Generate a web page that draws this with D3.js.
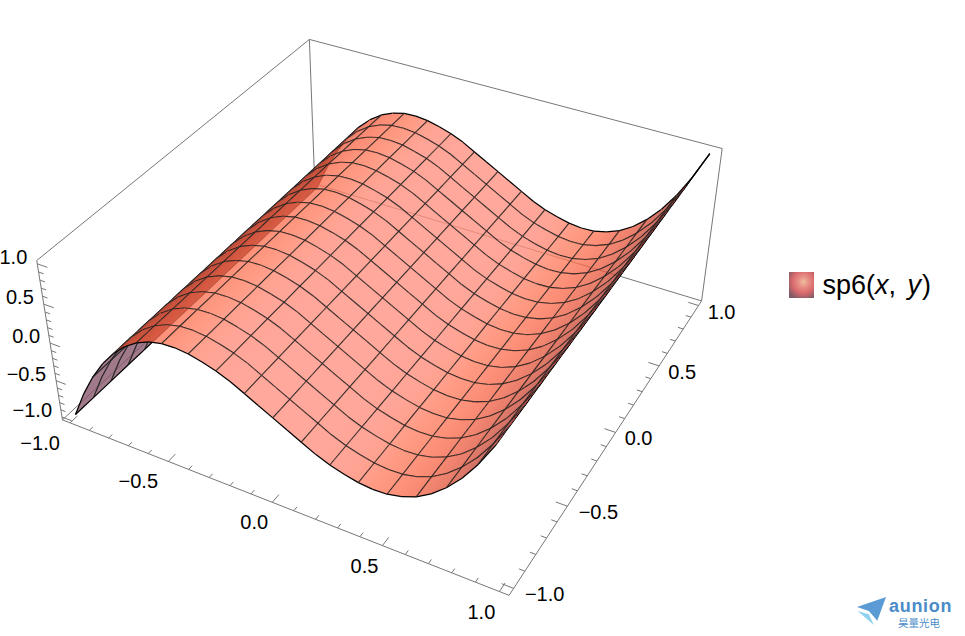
<!DOCTYPE html>
<html><head><meta charset="utf-8">
<script src="https://cdn.jsdelivr.net/npm/d3@7/dist/d3.min.js"></script>
<style>html,body{margin:0;background:#fff}svg{display:block}text{font-family:"Liberation Sans",Arial,sans-serif;fill:#000}</style>
</head><body><svg id="c" width="965" height="636"></svg>
<script>
// Surface height read along x (33 evenly spaced nodes from -1 to 1); constant along y
const zProfile=[-1.00,-0.65,-0.36,-0.12,0.07,0.22,0.33,0.40,0.44,0.447,0.43,0.39,0.34,0.27,0.18,0.09,0.00,
 -0.09,-0.18,-0.27,-0.34,-0.39,-0.43,-0.447,-0.44,-0.40,-0.33,-0.22,-0.07,0.12,0.36,0.65,1.00];
const xTickLabels=[-1,-0.5,0,0.5,1], yTickLabels=[-1,-0.5,0,0.5,1], zTickLabels=[-1,-0.5,0,0.5,1];
const legendName="sp6", legendArgs=["x","y"];
const brandName="aunion", brandSub="昊量光电";

const svg=d3.select("#c");
const lim=1.04, unit=d3.scaleLinear().domain([-lim,lim]).range([0,1]);
const nodeX=d3.scaleLinear().domain([0,zProfile.length-1]).range([-1,1]);
const meshY=d3.scaleLinear().domain([0,16]).range([-1,1]);

// camera fitted to the visible corners of the box
const anchors=[[-1,-1,-1,62.3,420],[1,-1,-1,509.3,595],[1,1,-1,701.3,302],[-1,1,-1,315,183],
 [-1,-1,1,36.7,260.7],[1,1,1,722.3,147.7],[-1,1,1,309.3,40]];
function fitCamera(){
 const A=[],b=[];
 anchors.forEach(([x,y,z,u,v])=>{
  const X=(x+1)/2,Y=(y+1)/2,Z=(z+1)/2;
  A.push([X,Y,Z,1,0,0,0,0,-u*X,-u*Y,-u*Z]);b.push(u);
  A.push([0,0,0,0,X,Y,Z,1,-v*X,-v*Y,-v*Z]);b.push(v);
 });
 const n=11,M=d3.range(n).map(r=>d3.range(n+1).map(c=>c<n?d3.sum(A,(row)=>row[r]*row[c]):d3.sum(A,(row,k)=>row[r]*b[k])));
 for(let c=0;c<n;c++){
  let p=c;for(let r=c+1;r<n;r++)if(Math.abs(M[r][c])>Math.abs(M[p][c]))p=r;
  [M[c],M[p]]=[M[p],M[c]];
  for(let r=0;r<n;r++)if(r!==c){const f=M[r][c]/M[c][c];for(let k=c;k<=n;k++)M[r][k]-=f*M[c][k];}
 }
 return M.map((row,i)=>row[n]/row[i]);
}
const C=fitCamera();
function proj(x,y,z){const X=unit(x),Y=unit(y),Z=unit(z),w=C[8]*X+C[9]*Y+C[10]*Z+1;
 return [(C[0]*X+C[1]*Y+C[2]*Z+C[3])/w,(C[4]*X+C[5]*Y+C[6]*Z+C[7])/w,w];}
const line=d3.line();

// box
const boxG=svg.append("g").attr("fill","none").attr("stroke","#777").attr("stroke-width",1);
[[[-lim,-lim,lim],[-lim,lim,lim]],[[-lim,lim,lim],[lim,lim,lim]],[[lim,lim,lim],[lim,lim,-lim]],
 [[lim,lim,-lim],[lim,-lim,-lim]],[[lim,-lim,-lim],[-lim,-lim,-lim]],[[-lim,-lim,-lim],[-lim,-lim,lim]],
 [[-lim,lim,lim],[-lim,lim,-lim]],[[-lim,lim,-lim],[lim,lim,-lim]],[[-lim,lim,-lim],[-lim,-lim,-lim]]]
 .forEach(e=>boxG.append("path").attr("d",line(e.map(p=>proj(...p).slice(0,2)))));
// ticks
const fine=d3.range(-10,11).map(d=>d/10);
fine.forEach(t=>{
 const major=Math.abs(t*2-Math.round(t*2))<1e-9, len=major?0.05:0.025;
 boxG.append("path").attr("d",line([proj(t,-lim,-lim),proj(t,-lim+len,-lim)].map(p=>p.slice(0,2))));
 boxG.append("path").attr("d",line([proj(lim,t,-lim),proj(lim-len,t,-lim)].map(p=>p.slice(0,2))));
 boxG.append("path").attr("d",line([proj(-lim,-lim,t),proj(-lim+len,-lim,t)].map(p=>p.slice(0,2))));
});
const fmt=d=>(d<0?"\u2212":"")+Math.abs(d).toFixed(1);
const tickFont=20;
function label(px,py,s,anchor){svg.append("text").attr("x",px).attr("y",py).attr("font-size",tickFont)
 .attr("text-anchor",anchor).attr("dominant-baseline","central").text(fmt(s));}
xTickLabels.forEach(t=>{const p=proj(t,-lim,-lim);label(p[0]-(t<0?30:18),p[1]+20,t,"middle");});
yTickLabels.forEach(t=>{const p=proj(lim,t,-lim);label(p[0]+(t<0?31:23),p[1]+6,t,"middle");});
zTickLabels.forEach(t=>{const p=proj(-lim,-lim,t);label(p[0]-10,p[1]-7,t,"end");});

// surface
const alpha=0.78;
const slope=i=>{const a=Math.max(0,i-1),b=Math.min(zProfile.length-1,i+1);return (zProfile[b]-zProfile[a])/(nodeX(b)-nodeX(a));};
const front=d3.scaleLinear().domain([-1.5,-0.8,0,1,2.5,4.5,7.5])
 .range(["rgb(255,143,127)","rgb(255,140,122)","rgb(255,124,94)","rgb(250,108,78)","rgb(225,90,65)","rgb(180,65,55)","rgb(150,55,50)"]).clamp(true);
const backColor="rgb(133,85,105)", behindColor="rgb(95,22,22)";
const cells=[];
for(let i=0;i<zProfile.length-1;i++)for(let j=0;j<16;j++){
 const c=proj((nodeX(i)+nodeX(i+1))/2,(meshY(j)+meshY(j+1))/2,(zProfile[i]+zProfile[i+1])/2);
 cells.push({i,j,d:c[2]});
}
const wFar=proj(-lim,lim,-lim)[2],wNear=proj(lim,-lim,-lim)[2];
cells.sort((a,b)=>wFar>wNear?d3.descending(a.d,b.d):d3.ascending(a.d,b.d));
const backG=svg.append("g"), behindG=svg.append("g").attr("clip-path","url(#sheet)"), backLines=svg.append("g"), frontG=svg.append("g");
const faces=3; let sheetPath="";
cells.forEach(({i,j})=>{
 const pt=(t,y)=>proj(nodeX(i+t),y,zProfile[i]+(zProfile[i+1]-zProfile[i])*t).slice(0,2);
 const y0=meshY(j),y1=meshY(j+1);
 const c0=slope(i),c1=slope(i+1);
 let anyFront=false;
 for(let k=0;k<faces;k++){
  const t0=k/faces,t1=(k+1)/faces,poly=[pt(t0,y0),pt(t1,y0),pt(t1,y1),pt(t0,y1)];
  const d=line(poly)+"Z";
  if(d3.polygonArea(poly)>0){
   anyFront=true; sheetPath+=d;
   frontG.append("path").attr("d",d).attr("fill",front(c0+(c1-c0)*(k+.5)/faces))
    .attr("fill-opacity",alpha).attr("shape-rendering","crispEdges");
  } else {
   backG.append("path").attr("d",d).attr("fill",backColor).attr("fill-opacity",alpha).attr("shape-rendering","crispEdges");
   behindG.append("path").attr("d",d).attr("fill",behindColor).attr("fill-opacity",1).attr("shape-rendering","crispEdges");
  }
 }
 const host=anyFront?frontG:backLines;
 const seg=(a,b,black)=>host.append("path").attr("d",line([a,b])).attr("fill","none")
   .attr("stroke",black?"#000":"#222").attr("stroke-width",black?1.25:1.05).attr("stroke-opacity",black?1:0.72);
 seg(pt(0,y0),pt(1,y0),j===0);
 seg(pt(0,y1),pt(1,y1),j===15);
 if(i%2===0)seg(pt(0,y0),pt(0,y1),i===0);
 if(i%2===1)seg(pt(1,y0),pt(1,y1),i===zProfile.length-2);
});

// legend
const defs=svg.append("defs");
defs.append("clipPath").attr("id","sheet").append("path").attr("d",sheetPath);
const g=defs.append("radialGradient").attr("id","sw").attr("cx",.58).attr("cy",.38).attr("r",.72);
[[0,"#efc09a"],[.28,"#e88f86"],[.62,"#d8696c"],[1,"#7c5a66"]].forEach(([o,c])=>g.append("stop").attr("offset",o).attr("stop-color",c));
svg.append("rect").attr("x",789).attr("y",272).attr("width",25).attr("height",26).attr("fill","url(#sw)");
const lt=svg.append("text").attr("x",822.5).attr("y",294).attr("font-size",27);
lt.append("tspan").text(legendName+"(");
lt.append("tspan").attr("font-style","italic").text(legendArgs[0]);
lt.append("tspan").text(", ");
lt.append("tspan").attr("dx",4).attr("font-style","italic").text(legendArgs[1]);
lt.append("tspan").attr("dx",1).text(")");

// brand mark
const markX=d3.scaleLinear().domain([0,1]).range([857,886]),markY=d3.scaleLinear().domain([0,1]).range([597,625]);
const markA=[[1,0],[0,.36],[.41,.5],[.7,.85]],markB=[[.02,.5],[.58,1],[.41,.62]];
svg.append("path").attr("d",line(markA.map(p=>[markX(p[0]),markY(p[1])]))+"Z").attr("fill","#5b9bd5");
svg.append("path").attr("d",line(markB.map(p=>[markX(p[0]),markY(p[1])]))+"Z").attr("fill","#8fd3ee");
svg.append("text").attr("x",889).attr("y",611.5).attr("font-size",18).attr("font-weight","bold").style("fill","#4a8cc8").attr("letter-spacing",.7).text(brandName);
svg.append("text").attr("x",898).attr("y",626.5).attr("font-size",10.5).style("font-family","'Noto Sans CJK SC'").style("fill","#4a8cc8").text(brandSub);
</script></body></html>
